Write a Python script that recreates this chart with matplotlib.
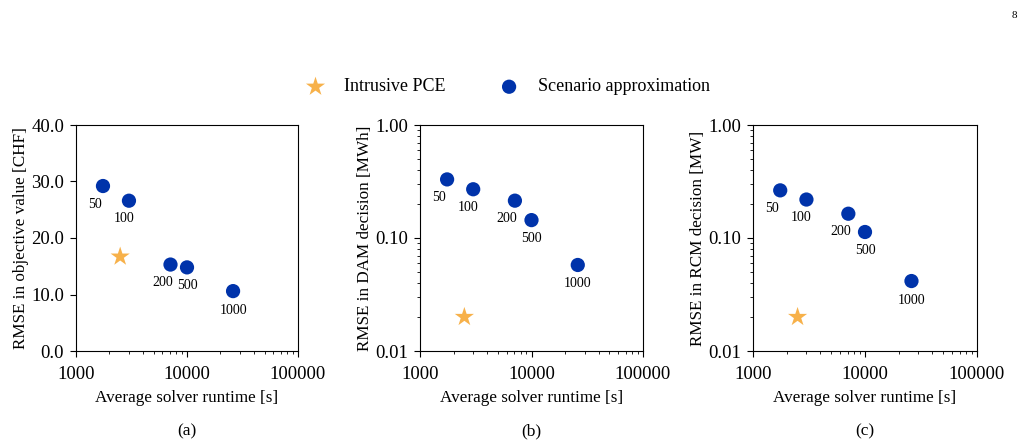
import matplotlib
matplotlib.use('Agg')
import matplotlib.pyplot as plt
from matplotlib.ticker import FormatStrFormatter, FixedLocator, LogLocator, NullFormatter

plt.rcParams['font.family'] = ['Liberation Serif', 'DejaVu Serif']
plt.rcParams['font.size'] = 12

# Scenario approximation: number of scenarios and runtimes
n_scenarios = ['50', '100', '200', '500', '1000']
runtime_sa = [1750, 3000, 7100, 10000, 26000]
runtime_pce = [2500]

# RMSE values per panel
rmse_obj_sa = [29.2, 26.6, 15.3, 14.8, 10.6]
rmse_obj_pce = [16.7]
rmse_dam_sa = [0.330, 0.270, 0.214, 0.144, 0.0577]
rmse_dam_pce = [0.020]
rmse_rcm_sa = [0.264, 0.219, 0.164, 0.113, 0.0416]
rmse_rcm_pce = [0.020]

ylabels = ['RMSE in objective value [CHF]', 'RMSE in DAM decision [MWh]', 'RMSE in RCM decision [MW]']
subtitles = ['(a)', '(b)', '(c)']

# label offsets in pixels for the scenario counts
label_offsets = [(-8, -18), (-5, -18), (-8, -18), (0, -18), (0, -19)]

blue = '#0033AA'
orange = '#F7B14A'

fig = plt.figure(figsize=(10.28, 4.46), dpi=100)
W, H = 1028, 446
ax_boxes = [(76, 125, 298, 351), (420, 125, 643, 351), (753, 125, 977, 351)]
axes = [fig.add_axes([l / W, 1 - b / H, (r - l) / W, (b - t) / H]) for (l, t, r, b) in ax_boxes]

data = [(rmse_obj_sa, rmse_obj_pce), (rmse_dam_sa, rmse_dam_pce), (rmse_rcm_sa, rmse_rcm_pce)]

for i, ax in enumerate(axes):
    sa, pce = data[i]
    ax.scatter(runtime_pce, pce, marker='*', s=210, color=orange, edgecolors='none',
               label='Intrusive PCE', zorder=3)
    ax.scatter(runtime_sa, sa, marker='o', s=105, color=blue, edgecolors='none',
               label='Scenario approximation', zorder=3)
    for j, lab in enumerate(n_scenarios):
        ax.annotate(lab, (runtime_sa[j], sa[j]), xytext=label_offsets[j], textcoords='offset pixels',
                    ha='center', va='center', fontsize=10)
    ax.set_xscale('log')
    ax.set_xlim(1000, 100000)
    ax.xaxis.set_major_locator(FixedLocator([1000, 10000, 100000]))
    ax.xaxis.set_major_formatter(FormatStrFormatter('%d'))
    ax.xaxis.set_minor_locator(LogLocator(base=10, subs=range(2, 10)))
    ax.xaxis.set_minor_formatter(NullFormatter())
    if i == 0:
        ax.set_ylim(0, 40)
        ax.set_yticks([0, 10, 20, 30, 40])
        ax.yaxis.set_major_formatter(FormatStrFormatter('%.1f'))
    else:
        ax.set_yscale('log')
        ax.set_ylim(0.01, 1.0)
        ax.yaxis.set_major_locator(FixedLocator([0.01, 0.1, 1.0]))
        ax.yaxis.set_major_formatter(FormatStrFormatter('%.2f'))
        ax.yaxis.set_minor_locator(LogLocator(base=10, subs=range(2, 10)))
        ax.yaxis.set_minor_formatter(NullFormatter())
    ax.tick_params(which='major', labelsize=13.5, length=4.5, pad=4)
    ax.tick_params(axis='x', which='major', pad=6)
    ax.tick_params(which='minor', length=2.5)
    ax.set_xlabel('Average solver runtime [s]', fontsize=12.3, labelpad=5)
    ax.set_ylabel(ylabels[i], fontsize=12.3, labelpad=2)
    ax.text(0.5, -0.355, subtitles[i], transform=ax.transAxes, ha='center', va='center', fontsize=12.5)

handles, labels = axes[0].get_legend_handles_labels()
fig.legend(handles, labels, loc='center', bbox_to_anchor=(0.49, 0.805), ncol=2, frameon=False,
           fontsize=13, columnspacing=2.5, handletextpad=0.6, scatterpoints=1)

fig.text(1014 / W, 1 - 15 / H, '8', ha='center', va='center', fontsize=8)

plt.savefig('out.png', dpi=100)
